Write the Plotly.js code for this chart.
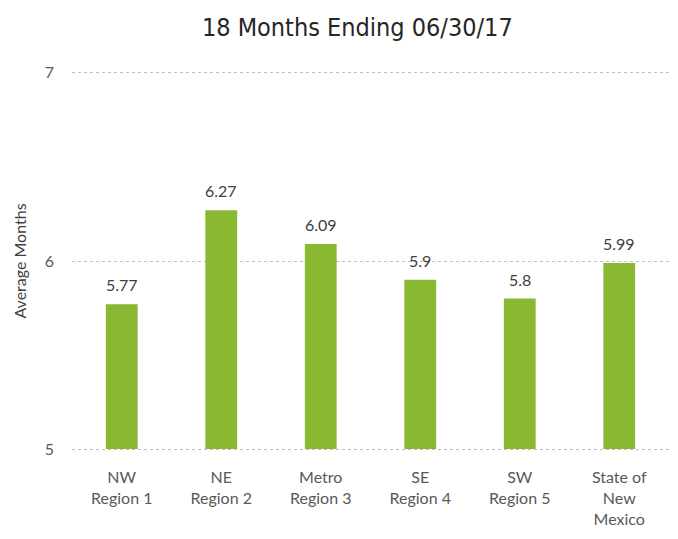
<!DOCTYPE html>
<html>
<head>
<meta charset="utf-8">
<script src="https://cdn.plot.ly/plotly-3.0.1.min.js"></script>
<style>html,body{margin:0;padding:0;background:#fff;}#chart{width:678px;height:539px;}</style>
</head>
<body>
<div id="chart"></div>
<script>
const categories = ["NW<br>Region 1", "NE<br>Region 2", "Metro<br>Region 3", "SE<br>Region 4", "SW<br>Region 5", "State of<br>New<br>Mexico"];
const values = [5.77, 6.27, 6.09, 5.9, 5.8, 5.99];
const valueLabels = ["5.77", "6.27", "6.09", "5.9", "5.8", "5.99"];
const yTicks = [5, 6, 7];
const axisMin = 5;
const chartTitle = "18 Months Ending 06/30/17";
const yTitle = "Average Months";

const labelFont = {family: "Lato, 'Open Sans', sans-serif", size: 16, color: "#404040"};

Plotly.newPlot("chart", [{
  type: "bar",
  x: categories,
  base: axisMin,
  y: values.map(v => v - axisMin),
  marker: {color: "#8AB833"},
  hoverinfo: "none"
}], {
  width: 678, height: 539,
  margin: {l: 72, r: 9, t: 71, b: 88},
  paper_bgcolor: "#fff", plot_bgcolor: "#fff",
  bargap: 0.68,
  showlegend: false,
  annotations: categories.map((c, i) => ({
    x: c, y: values[i], xref: "x", yref: "y", text: valueLabels[i],
    showarrow: false, yanchor: "bottom", yshift: 8, font: labelFont
  })),
  title: {text: chartTitle, x: 0.527, xanchor: "center", y: 0.95, yanchor: "middle",
    font: {family: "'DejaVu Sans Condensed', 'DejaVu Sans', sans-serif", stretch: "ultra-condensed", weight: 200, size: 25, color: "#262626"}},
  xaxis: {
    tickfont: {family: "Lato, 'Open Sans', sans-serif", size: 16, color: "#595959"},
    showline: false, showgrid: false, zeroline: false, ticks: "", ticklabelstandoff: 15
  },
  yaxis: {
    range: [4.99, 7.01],
    tickvals: yTicks,
    ticktext: yTicks.map(String),
    tickfont: {family: "Lato, 'Open Sans', sans-serif", size: 16, color: "#595959"},
    showgrid: true, gridcolor: "#BFBFBF", griddash: "dot", gridwidth: 1,
    zeroline: false, showline: false, ticks: "", ticklabelstandoff: 17,
    title: {text: yTitle, standoff: 14, font: {family: "Lato, 'Open Sans', sans-serif", size: 16, color: "#404040"}}
  }
}, {staticPlot: true});
</script>
</body>
</html>
